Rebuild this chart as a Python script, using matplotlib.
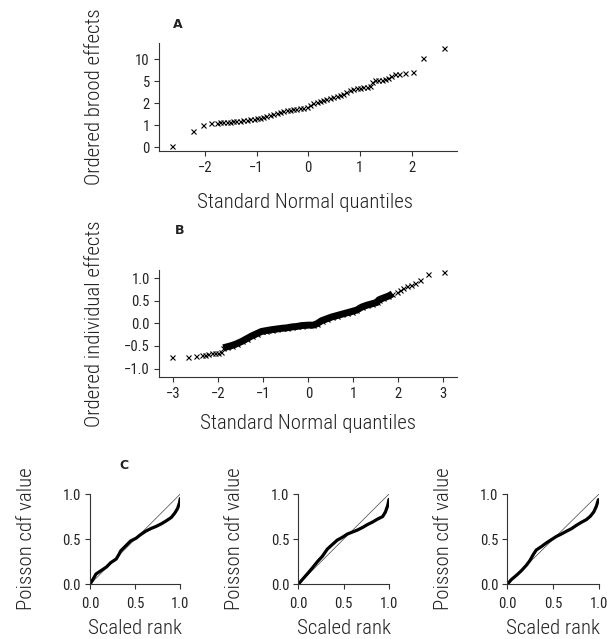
import numpy as np
import matplotlib
matplotlib.use('Agg')
import matplotlib.pyplot as plt

plt.rcParams['font.family'] = ['Roboto Condensed', 'Liberation Sans Narrow', 'DejaVu Sans Condensed', 'DejaVu Sans']

# A: ordered brood effects vs standard normal quantiles
quant_a = [-2.63, -2.24, -2.03, -1.88, -1.77, -1.71, -1.65, -1.58, -1.52, -1.45,
           -1.39, -1.32, -1.26, -1.19, -1.13, -1.06, -1.00, -0.94, -0.87, -0.81,
           -0.74, -0.68, -0.61, -0.55, -0.48, -0.42, -0.35, -0.29, -0.23, -0.16,
           -0.10, -0.03, 0.03, 0.10, 0.16, 0.23, 0.29, 0.35, 0.42, 0.48,
           0.55, 0.61, 0.68, 0.74, 0.81, 0.87, 0.94, 1.00, 1.06, 1.13,
           1.19, 1.24, 1.29, 1.35, 1.42, 1.48, 1.55, 1.61, 1.68, 1.76,
           1.87, 2.02, 2.23, 2.63]
brood_a = [0.06, 0.74, 1.00, 1.11, 1.12, 1.14, 1.15, 1.17, 1.17, 1.18,
           1.20, 1.21, 1.23, 1.24, 1.27, 1.29, 1.32, 1.35, 1.39, 1.44,
           1.48, 1.53, 1.58, 1.62, 1.67, 1.70, 1.71, 1.74, 1.76, 1.77,
           1.80, 1.85, 1.92, 2.05, 2.18, 2.32, 2.46, 2.59, 2.68, 2.82,
           2.95, 3.09, 3.27, 3.59, 3.86, 4.00, 4.05, 4.09, 4.18, 4.23,
           4.32, 4.86, 5.23, 5.38, 5.38, 5.45, 5.76, 6.21, 6.59, 6.74,
           6.97, 7.05, 10.38, 12.58]
xticks_a = [-2, -1, 0, 1, 2]
yticks_a = [0, 1, 2, 5, 10]

# B: ordered individual effects
quant_b = [-3.02, -2.67, -2.50, -2.37, -2.30, -2.22, -2.15, -2.07, -2.00, -1.94,
           -1.89, -1.81, -1.70, -1.59, -1.48, -1.37, -1.26, -1.15, -1.04, -0.93,
           -0.81, -0.70, -0.59, -0.48, -0.37, -0.26, -0.15, 0.00, 0.11, 0.19,
           0.30, 0.41, 0.52, 0.63, 0.74, 0.85, 0.96, 1.07, 1.19, 1.30,
           1.41, 1.52, 1.57, 1.67, 1.78, 1.87,
           1.96, 2.04, 2.11, 2.19, 2.28, 2.37, 2.48, 2.67, 3.02]
indiv_b = [-0.75, -0.74, -0.73, -0.71, -0.69, -0.68, -0.66, -0.65, -0.65, -0.63,
           -0.54, -0.52, -0.49, -0.45, -0.40, -0.34, -0.28, -0.23, -0.18, -0.16,
           -0.14, -0.125, -0.11, -0.10, -0.08, -0.07, -0.05, -0.04, -0.04, -0.01,
           0.06, 0.10, 0.14, 0.17, 0.20, 0.23, 0.26, 0.29, 0.36, 0.40,
           0.43, 0.46, 0.52, 0.56, 0.60, 0.65,
           0.69, 0.74, 0.79, 0.82, 0.85, 0.89, 0.95, 1.08, 1.14]
xticks_b = [-3, -2, -1, 0, 1, 2, 3]
yticks_b = [-1.0, -0.5, 0.0, 0.5, 1.0]

# C: poisson cdf value vs scaled rank, three panels
rank_c1 = [0.0, 0.03, 0.066, 0.12, 0.18, 0.23, 0.29, 0.32, 0.34, 0.40, 0.45, 0.51,
           0.56, 0.62, 0.68, 0.73, 0.79, 0.84, 0.90, 0.94, 0.97, 0.99, 1.0]
cdf_c1 = [0.0, 0.05, 0.114, 0.15, 0.19, 0.24, 0.28, 0.33, 0.37, 0.43, 0.48, 0.51,
          0.55, 0.59, 0.62, 0.64, 0.67, 0.70, 0.74, 0.79, 0.84, 0.90, 0.95]
rank_c2 = [0.0, 0.044, 0.10, 0.154, 0.21, 0.265, 0.32, 0.375, 0.43, 0.485, 0.54,
           0.60, 0.65, 0.71, 0.76, 0.82, 0.87, 0.93, 0.96, 0.985, 1.0]
cdf_c2 = [0.0, 0.052, 0.116, 0.18, 0.25, 0.31, 0.39, 0.44, 0.49, 0.52, 0.556,
          0.58, 0.60, 0.63, 0.66, 0.69, 0.72, 0.75, 0.80, 0.87, 0.94]
rank_c3 = [0.0, 0.044, 0.10, 0.153, 0.207, 0.244, 0.287, 0.316, 0.371, 0.425, 0.48,
           0.535, 0.59, 0.644, 0.70, 0.753, 0.807, 0.862, 0.905, 0.942, 0.971, 0.993]
cdf_c3 = [0.0, 0.052, 0.10, 0.15, 0.21, 0.26, 0.336, 0.38, 0.417, 0.458, 0.494,
          0.53, 0.557, 0.587, 0.616, 0.653, 0.686, 0.716, 0.753, 0.80, 0.863, 0.937]
ticks_c = [0.0, 0.5, 1.0]
diag = [0.0, 1.0]

W, H = 607, 639
fig = plt.figure(figsize=(W / 100, H / 100), dpi=100)
ink = '#222222'


def box(l, t, r, b):
    # pixel box -> figure fraction rect
    return [l / W, 1 - b / H, (r - l) / W, (b - t) / H]


def ptext(x, y, s, **kw):
    fig.text(x / W, 1 - y / H, s, color=ink, **kw)


def style(ax, xpad=3.5):
    for s in ['top', 'right']:
        ax.spines[s].set_visible(False)
    for s in ['left', 'bottom']:
        ax.spines[s].set_linewidth(0.8)
        ax.spines[s].set_color('#333333')
    ax.tick_params(direction='out', length=3.4, width=0.8, colors='#333333',
                   labelcolor=ink, labelsize=10.5, pad=3.2)
    ax.tick_params(axis='x', pad=xpad)


lab = dict(fontsize=15, fontweight='light')
ylab = dict(fontsize=15, fontweight='light', rotation=90, rotation_mode='anchor',
            ha='center', va='baseline')

# piecewise y scale for panel A (0,1,2,5,10 equally spaced)
brk_v = [-1, 0, 1, 2, 5, 10, 15]
brk_u = [-1, 0, 1, 2, 3, 4, 5]


def fwd(v):
    return np.interp(v, brk_v, brk_u)


def inv(u):
    return np.interp(u, brk_u, brk_v)


# panel A
ax = fig.add_axes(box(159, 43, 457, 151))
ax.set_yscale('function', functions=(fwd, inv))
ax.plot(quant_a, brood_a, 'x', color='k', ms=3.6, mew=0.8)
ax.set_xlim(-2.89, 2.88)
ax.set_ylim(-0.17, 13.7)
ax.set_xticks(xticks_a)
ax.set_xticklabels([str(t).replace('-', '\u2212') for t in xticks_a])
ax.set_yticks(yticks_a)
ax.set_yticklabels([str(t) for t in yticks_a])
ax.minorticks_off()
style(ax)
ptext(178, 28, 'A', fontsize=9, fontweight='bold', ha='center', family='DejaVu Sans')
ptext(305, 207.5, 'Standard Normal quantiles', ha='center', va='baseline', **lab)
ptext(100, 97, 'Ordered brood effects', **ylab)

# panel B
ax = fig.add_axes(box(159, 270, 457, 377))
qb = np.array(quant_b)
vb = np.array(indiv_b)
dense = (qb > -1.92) & (qb < 1.9)
ax.plot(qb[dense], vb[dense], '-', color='k', lw=5, solid_capstyle='butt')
ax.plot(qb, vb, 'x', color='k', ms=3.6, mew=0.8)
ax.set_xlim(-3.318, 3.304)
ax.set_ylim(-1.185, 1.177)
ax.set_xticks(xticks_b)
ax.set_xticklabels([str(t).replace('-', '\u2212') for t in xticks_b])
ax.set_yticks(yticks_b)
ax.set_yticklabels(['%.1f' % t if t >= 0 else '\u2212%.1f' % -t for t in yticks_b])
style(ax)
ptext(180, 234, 'B', fontsize=9, fontweight='bold', ha='center', family='DejaVu Sans')
ptext(308, 429, 'Standard Normal quantiles', ha='center', va='baseline', **lab)
ptext(100, 323.5, 'Ordered individual effects', **ylab)

# panel C
c_boxes = [(90, 494, 180.3, 584.3), (298.3, 494, 389, 584.3), (507.3, 494, 599, 584.3)]
c_data = [(rank_c1, cdf_c1), (rank_c2, cdf_c2), (rank_c3, cdf_c3)]
for (l, t, r, b), (rk, cd) in zip(c_boxes, c_data):
    ax = fig.add_axes(box(l, t, r, b))
    ax.plot(diag, diag, '-', color='#444444', lw=0.5)
    ax.plot(rk, cd, '-', color='k', lw=2.3, solid_capstyle='round')
    ax.set_xlim(0, 1)
    ax.set_ylim(0, 1)
    ax.set_xticks(ticks_c)
    ax.set_yticks(ticks_c)
    ax.set_xticklabels(['%.1f' % t for t in ticks_c])
    ax.set_yticklabels(['%.1f' % t for t in ticks_c])
    style(ax, xpad=6)
    cx = (l + r) / 2
    ptext(cx, 634, 'Scaled rank', ha='center', va='baseline', **lab)
    ptext(l - 58, (t + b) / 2, 'Poisson cdf value', **ylab)
ptext(124, 469, 'C', fontsize=9, fontweight='bold', ha='center', family='DejaVu Sans')

fig.savefig('out.png', dpi=100)
